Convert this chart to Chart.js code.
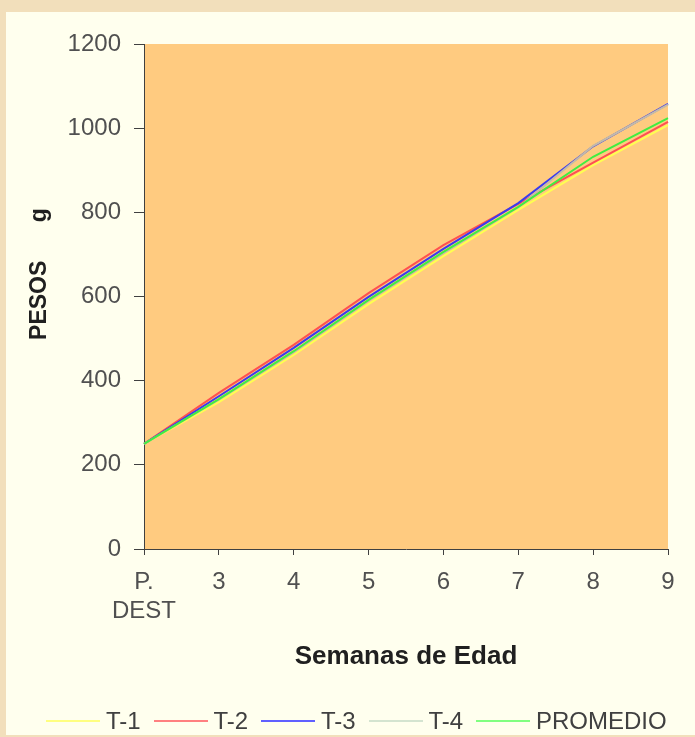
<!DOCTYPE html>
<html><head><meta charset="utf-8">
<script src="https://cdn.jsdelivr.net/npm/chart.js@4"></script>
<style>
html,body{margin:0;padding:0;background:#F2DFBB;}
#wrap{position:relative;width:695px;height:737px;overflow:hidden;}
canvas{position:absolute;left:0;top:0;}
#legend{position:absolute;left:0;top:705px;width:695px;height:32px;font-family:'Liberation Sans',Arial,sans-serif;font-size:24px;line-height:32px;color:#404040;white-space:nowrap;}
.item{position:absolute;top:0;display:flex;align-items:center;height:32px}
.swatch{width:54px;height:2px;margin-right:6px}
</style></head><body>
<div id="wrap"><canvas id="c" width="695" height="737"></canvas><div id="legend"></div></div>
<script>
const categories = [["P.","DEST"],"3","4","5","6","7","8","9"];
const seriesNames = ["T-1","T-2","T-3","T-4","PROMEDIO"];
const t1 = [250, 349, 461, 582, 696, 806, 912, 1007];
const t2 = [250, 371, 485, 608, 722, 820, 918, 1015];
const t3 = [250, 363, 478, 599, 713, 822, 957, 1058];
const t4 = [250, 355, 468, 590, 703, 812, 958, 1056];
const promedio = [250, 356, 470, 592, 706, 813, 932, 1024];
const yTicks = [0, 200, 400, 600, 800, 1000, 1200];
const lineColors = ["#FFFF50", "#FF5050", "#3A3AF0", "#C4BCA8", "#40EE40"];
const legendColors = ["#FFFF80", "#FF8080", "#6060FF", "#D4E4D0", "#80FF80"];

const SANS = "'Liberation Sans',Arial,sans-serif";
const PLOT = {left:144, right:668, top:44, bottom:549};

const bgPlugin = {
  id:'bg',
  beforeDraw(chart){
    const ctx = chart.ctx;
    ctx.save();
    ctx.fillStyle = '#F2DFBB';
    ctx.fillRect(0,0,chart.width,chart.height);
    ctx.fillStyle = '#FFFFEE';
    ctx.fillRect(6,12,chart.width-6,chart.height-14);
    const a = chart.chartArea;
    ctx.fillStyle = '#FFCB80';
    ctx.fillRect(a.left,a.top,a.right-a.left,a.bottom-a.top);
    ctx.restore();
  }
};

const allSeries = [t1,t2,t3,t4,promedio];
const datasets = allSeries.map((d,i)=>({
  label: seriesNames[i],
  data: d,
  borderColor: lineColors[i],
  backgroundColor: lineColors[i],
  borderWidth: 2,
  pointRadius: 0,
  tension: 0,
  fill: false,
  order: 5 - i
}));

new Chart(document.getElementById('c'), {
  type:'line',
  data:{labels:categories, datasets},
  plugins:[bgPlugin],
  options:{
    responsive:false,
    animation:false,
    devicePixelRatio:1,
    layout:{padding:{left:0,right:695-PLOT.right,top:PLOT.top,bottom:0}},
    plugins:{legend:{display:false},tooltip:{enabled:false}},
    scales:{
      x:{
        type:'category',
        offset:false,
        afterFit(s){ s.height = 737 - PLOT.bottom; },
        grid:{drawOnChartArea:false,drawTicks:true,tickLength:6,color:'#404040',tickWidth:1},
        border:{display:true,color:'#404040',width:1},
        ticks:{font:{family:SANS,size:24},color:'#505050',padding:13,maxRotation:0,autoSkip:false},
        title:{display:true,text:'Semanas de Edad',font:{family:SANS,size:26,weight:'bold'},color:'#202020',padding:{top:0,bottom:65}}
      },
      y:{
        min:0,max:1200,
        afterBuildTicks(s){ s.ticks = yTicks.map(v=>({value:v})); },
        afterFit(s){ s.width = PLOT.left; },
        grid:{drawOnChartArea:false,drawTicks:true,tickLength:10,color:'#404040',tickWidth:1},
        border:{display:true,color:'#404040',width:1},
        ticks:{font:{family:SANS,size:24},color:'#505050',padding:13,callback:(v)=>String(v)},
        title:{display:true,text:'       PESOS      g',font:{family:SANS,size:23,weight:'bold'},color:'#202020',padding:{top:26,bottom:0}}
      }
    }
  }
});

const leg = document.getElementById('legend');
seriesNames.forEach((n,i)=>{
  const it = document.createElement('div'); it.className='item';
  it.style.left = (46 + i*107.5) + 'px';
  const sw = document.createElement('div'); sw.className='swatch'; sw.style.background=legendColors[i];
  const tx = document.createElement('span'); tx.textContent=n;
  it.appendChild(sw); it.appendChild(tx); leg.appendChild(it);
});
</script>
</body></html>
